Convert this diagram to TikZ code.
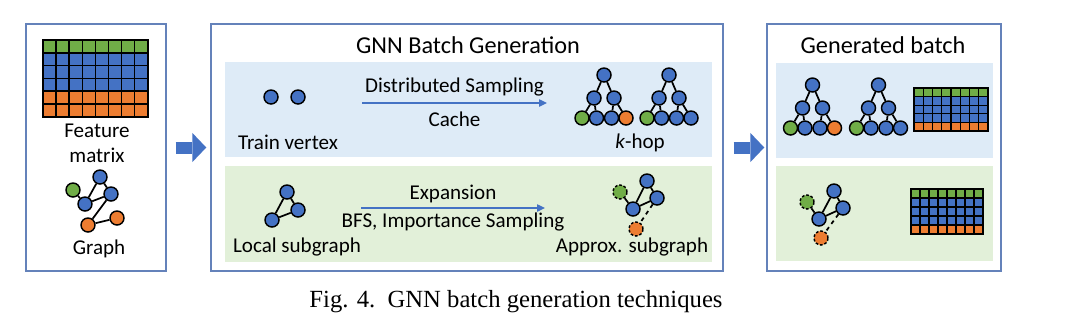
\documentclass[tikz,border=0pt]{standalone}
\usepackage{fontspec}
\setmainfont{Carlito}
\newfontfamily\capfont{Liberation Serif}
\usetikzlibrary{arrows.meta,positioning,fit}
\definecolor{nodeblue}{RGB}{68,114,196}
\definecolor{nodegreen}{RGB}{112,173,71}
\definecolor{nodeorange}{RGB}{237,125,49}
\definecolor{panelblue}{RGB}{222,235,247}
\definecolor{panelgreen}{RGB}{226,240,217}
\definecolor{boxline}{RGB}{100,130,186}

% feature matrix: x, y, cell width, cell height, row colours, line width
\newcommand{\featgrid}[6]{%
  \foreach \rowcol [count=\rr from 0] in {#5}{
    \foreach \cc in {0,...,7}{
      \filldraw[draw=black, line width=#6, fill=\rowcol]
        ({#1+\cc*#3},{#2+\rr*#4}) rectangle +(#3,#4);
    }
  }
}

% small k-hop tree: name, x, y, colour of last leaf
\newcommand{\gtree}[4]{%
  \node[vtx] (#1r) at (#2,#3) {};
  \node[vtx] (#1a) at ({#2-10},{#3+23}) {};
  \node[vtx] (#1b) at ({#2+10},{#3+23}) {};
  \node[vtx, fill=nodegreen] (#1l1) at ({#2-22},{#3+43}) {};
  \node[vtx] (#1l2) at ({#2-7.5},{#3+43}) {};
  \node[vtx] (#1l3) at ({#2+7.5},{#3+43}) {};
  \node[vtx, fill=#4] (#1l4) at ({#2+22},{#3+43}) {};
  \draw[link] (#1r) -- (#1a) (#1r) -- (#1b) (#1a) -- (#1l1)
    (#1a) -- (#1l2) (#1b) -- (#1l3) (#1b) -- (#1l4);
}

\begin{document}
\begin{tikzpicture}[
  x=0.75pt, y=-0.75pt,
  frame/.style={draw=boxline, line width=1.1pt, inner sep=0pt},
  vtx/.style={circle, draw=black, line width=1.1pt, fill=nodeblue, minimum size=10.5pt, inner sep=0pt},
  guess/.style={vtx, dash pattern=on 2pt off 1.4pt},
  link/.style={draw=black, line width=1.3pt},
  lab/.style={font=\fontsize{15.8}{19}\selectfont, inner sep=2pt},
  ttl/.style={font=\fontsize{18.2}{21}\selectfont},
  flow/.style={draw=nodeblue, line width=1pt, -{Triangle[length=6pt, width=5.5pt]}},
  bigarrow/.style={draw=nodeblue, line width=9pt, -{Triangle[length=10.5pt, width=22pt, line width=0pt]}}
]
\useasboundingbox (0,0) rectangle (1080,329);

% outer boxes
\coordinate (lb1) at (26,24);  \coordinate (lb2) at (166,271);
\coordinate (mb1) at (211,24); \coordinate (mb2) at (723,271);
\coordinate (rb1) at (767,24); \coordinate (rb2) at (1001,271);
\node[frame, fit=(lb1)(lb2)] (lbox) {};
\node[frame, fit=(mb1)(mb2)] (mbox) {};
\node[frame, fit=(rb1)(rb2)] (rbox) {};

\fill[panelblue] (225,62) rectangle (712,157);
\fill[panelgreen] (225,166) rectangle (712,262);
\fill[panelblue] (776,63) rectangle (993,158);
\fill[panelgreen] (776,166) rectangle (993,261);

\draw[bigarrow, shorten <=6.75pt, shorten >=3pt] (lbox) -- (mbox);
\draw[bigarrow, shorten <=7.5pt, shorten >=1.5pt] (mbox) -- (rbox);

% input
\featgrid{43}{40}{13.1}{12.8}{nodegreen,nodeblue,nodeblue,nodeblue,nodeorange,nodeorange}{1.1pt}
\node[lab, align=center] (fm) at (97,143) {Feature\\matrix};
\node[vtx, fill=nodegreen] (lgg) at (73,190) {};
\node[vtx] (lg1) at (100,177) {};
\node[vtx] (lg2) at (111,194) {};
\node[vtx] (lg3) at (85,204) {};
\node[vtx, fill=nodeorange] (lgo1) at (88,225) {};
\node[vtx, fill=nodeorange] (lgo2) at (117,218) {};
\draw[link] (lgg) -- (lg3) (lg3) -- (lg1) (lg1) -- (lg2) (lg2) -- (lg3)
  (lg2) -- (lgo1) (lgo1) -- (lgo2);
\node[lab] (gr) at (99,249) {Graph};

% batch generation
\node[ttl] (mt) at (468,45) {GNN Batch Generation};
\node[vtx] (tv1) at (271,97) {};
\node[vtx] (tv2) at (298,97) {};
\node[lab] (tvl) at (288,142) {Train vertex};
\coordinate (ds1) at (362,103);
\coordinate (ds2) at (547,103);
\draw[flow] (ds1) -- node[lab, above=2.5pt] {Distributed Sampling} node[lab, below=4.5pt] {Cache} (ds2);
\gtree{ta}{604}{75}{nodeorange}
\gtree{tb}{669}{75}{nodeblue}
\node[lab] (kh) at (640,143) {\textit{k}-hop};

\node[vtx] (ls1) at (287,192) {};
\node[vtx] (ls2) at (298,210) {};
\node[vtx] (ls3) at (272,220) {};
\draw[link] (ls1) -- (ls2) -- (ls3) -- (ls1);
\node[lab] (lsl) at (297,247) {Local subgraph};
\coordinate (ex1) at (361,208);
\coordinate (ex2) at (545,208);
\draw[flow] (ex1) -- node[lab, above=1.5pt] {Expansion} node[lab, below=1.5pt] {BFS, Importance Sampling} (ex2);
\node[guess, fill=nodegreen] (apg) at (620,192) {};
\node[vtx] (ap1) at (647,181) {};
\node[vtx] (ap2) at (657,198) {};
\node[vtx] (ap3) at (633,209) {};
\node[guess, fill=nodeorange] (apo) at (636,229) {};
\draw[link] (apg) -- (ap3) (ap3) -- (ap1) (ap1) -- (ap2) (ap2) -- (ap3);
\draw[link, dashed] (ap2) -- (apo);
\node[lab] (apl) at (632,247) {Approx. subgraph};

% generated batch
\node[ttl] (rt) at (883,45) {Generated batch};
\gtree{tc}{812.5}{85}{nodeorange}
\gtree{td}{878.5}{85}{nodeblue}
\featgrid{914}{88}{9.25}{8.6}{nodegreen,nodeblue,nodeblue,nodeblue,nodeorange}{0.9pt}
\node[guess, fill=nodegreen] (bpg) at (807,202) {};
\node[vtx] (bp1) at (834,191) {};
\node[vtx] (bp2) at (843,208) {};
\node[vtx] (bp3) at (819,219) {};
\node[guess, fill=nodeorange] (bpo) at (821,238) {};
\draw[link] (bpg) -- (bp3) (bp3) -- (bp1) (bp1) -- (bp2) (bp2) -- (bp3);
\draw[link, dashed] (bp2) -- (bpo);
\featgrid{911}{189}{9}{9}{nodegreen,nodeblue,nodeblue,nodeblue,nodeorange}{0.9pt}

\node[font=\capfont\fontsize{18.5}{22}\selectfont] (cap) at (516,302) {Fig. 4.\ \ GNN batch generation techniques};
\end{tikzpicture}
\end{document}
